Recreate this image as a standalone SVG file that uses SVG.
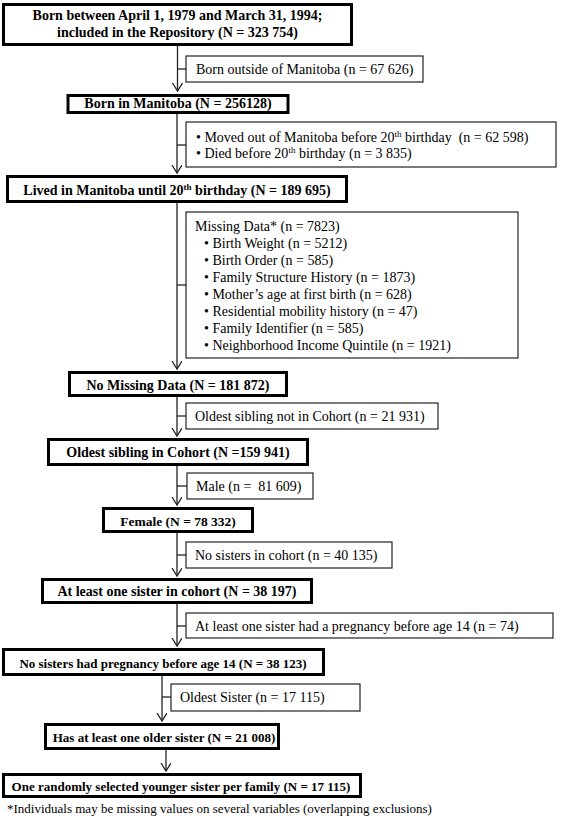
<svg xmlns="http://www.w3.org/2000/svg" width="567" height="823" viewBox="0 0 567 823">
<style>
.main{fill:#fff;stroke:#000;stroke-width:3}
.side{fill:#fff;stroke:#222;stroke-width:1.2}
.bt{font-family:"Liberation Serif","Times New Roman",serif;font-size:14px;font-weight:bold;text-anchor:middle;fill:#000}
.sm{font-size:13px}
.st{font-family:"Liberation Serif","Times New Roman",serif;font-size:14px;fill:#000;white-space:pre}
.fn{font-family:"Liberation Serif","Times New Roman",serif;font-size:13px;fill:#000}
.ln{stroke:#222;stroke-width:1.3;fill:none}
</style>
<defs>
<marker id="arr" markerWidth="12" markerHeight="12" refX="8" refY="5" orient="auto" markerUnits="userSpaceOnUse">
<path d="M0,0 L8,5 L0,10" fill="none" stroke="#222" stroke-width="1.3"/>
</marker>
</defs>
<rect width="567" height="823" fill="#fff"/>
<g id="connectors">
<line class="ln" x1="177.5" y1="46" x2="177.5" y2="91" marker-end="url(#arr)"/>
<line class="ln" x1="177.5" y1="69" x2="186" y2="69"/>
<line class="ln" x1="177" y1="114" x2="177" y2="173" marker-end="url(#arr)"/>
<line class="ln" x1="177" y1="145" x2="186" y2="145"/>
<line class="ln" x1="177" y1="203" x2="177" y2="369" marker-end="url(#arr)"/>
<line class="ln" x1="177" y1="285" x2="186" y2="285"/>
<line class="ln" x1="177" y1="397" x2="177" y2="436" marker-end="url(#arr)"/>
<line class="ln" x1="177" y1="416" x2="186" y2="416"/>
<line class="ln" x1="177" y1="466" x2="177" y2="505" marker-end="url(#arr)"/>
<line class="ln" x1="177" y1="486" x2="187" y2="486"/>
<line class="ln" x1="177" y1="533" x2="177" y2="576" marker-end="url(#arr)"/>
<line class="ln" x1="177" y1="555" x2="186" y2="555"/>
<line class="ln" x1="177" y1="604" x2="177" y2="646" marker-end="url(#arr)"/>
<line class="ln" x1="177" y1="626" x2="186" y2="626"/>
<line class="ln" x1="162" y1="676" x2="162" y2="721" marker-end="url(#arr)"/>
<line class="ln" x1="162" y1="697" x2="171" y2="697"/>
<line class="ln" x1="166" y1="750" x2="166" y2="771" marker-end="url(#arr)"/>
</g>
<g id="n1">
<rect class="main" x="3.5" y="4.5" width="348" height="40"/>
<text class="bt" x="177.5" y="20">Born between April 1, 1979 and March 31, 1994;</text>
<text class="bt" x="177.5" y="37">included in the Repository (N = 323 754)</text>
</g>
<g id="s1">
<rect class="side" x="186" y="56" width="237" height="26"/>
<text class="st" x="196" y="74">Born outside of Manitoba (n = 67 626)</text>
</g>
<g id="n2">
<rect class="main" x="68" y="95.5" width="220" height="17"/>
<text class="bt" x="178" y="108">Born in Manitoba (N = 256128)</text>
</g>
<g id="s2">
<rect class="side" x="186" y="122" width="370" height="45"/>
<text class="st" x="196" y="142">• Moved out of Manitoba before 20<tspan font-size="9" dy="-5">th</tspan><tspan dy="5"> birthday  (n = 62 598)</tspan></text>
<text class="st" x="196" y="158">• Died before 20<tspan font-size="9" dy="-5">th</tspan><tspan dy="5"> birthday (n = 3 835)</tspan></text>
</g>
<g id="n3">
<rect class="main" x="7.5" y="176.5" width="339" height="25"/>
<text class="bt" x="177" y="195">Lived in Manitoba until 20<tspan font-size="9" dy="-5">th</tspan><tspan dy="5"> birthday (N = 189 695)</tspan></text>
</g>
<g id="s3">
<rect class="side" x="186" y="212" width="332" height="146"/>
<text class="st" x="195" y="231">Missing Data* (n = 7823)</text>
<text class="st" x="204" y="248">• Birth Weight (n = 5212)</text>
<text class="st" x="204" y="265">• Birth Order (n = 585)</text>
<text class="st" x="204" y="282">• Family Structure History (n = 1873)</text>
<text class="st" x="204" y="299">• Mother’s age at first birth (n = 628)</text>
<text class="st" x="204" y="316">• Residential mobility history (n = 47)</text>
<text class="st" x="204" y="333">• Family Identifier (n = 585)</text>
<text class="st" x="204" y="350">• Neighborhood Income Quintile (n = 1921)</text>
</g>
<g id="n4">
<rect class="main" x="69.5" y="372.5" width="217" height="23"/>
<text class="bt" x="178" y="390">No Missing Data (N = 181 872)</text>
</g>
<g id="s4">
<rect class="side" x="186" y="403" width="252" height="26"/>
<text class="st" x="195" y="421">Oldest sibling not in Cohort (n = 21 931)</text>
</g>
<g id="n5">
<rect class="main" x="48.5" y="439.5" width="259" height="25"/>
<text class="bt" x="178" y="457">Oldest sibling in Cohort (N =159 941)</text>
</g>
<g id="s5">
<rect class="side" x="187" y="473" width="126" height="26"/>
<text class="st" x="196" y="491">Male (n =  81 609)</text>
</g>
<g id="n6">
<rect class="main" x="103.5" y="508.5" width="149" height="23"/>
<text class="bt" x="178" y="526" style="font-size:13.5px">Female (N = 78 332)</text>
</g>
<g id="s6">
<rect class="side" x="186" y="542" width="206" height="26"/>
<text class="st" x="195" y="560">No sisters in cohort (n = 40 135)</text>
</g>
<g id="n7">
<rect class="main" x="42.5" y="579.5" width="269" height="23"/>
<text class="bt" x="177" y="596">At least one sister in cohort (N = 38 197)</text>
</g>
<g id="s7">
<rect class="side" x="186" y="613" width="367" height="25"/>
<text class="st" x="195" y="631">At least one sister had a pregnancy before age 14 (n = 74)</text>
</g>
<g id="n8">
<rect class="main" x="3.5" y="649.5" width="320" height="25"/>
<text class="bt sm" x="163" y="668">No sisters had pregnancy before age 14 (N = 38 123)</text>
</g>
<g id="s8">
<rect class="side" x="171" y="684" width="189" height="27"/>
<text class="st" x="180" y="702">Oldest Sister (n = 17 115)</text>
</g>
<g id="n9">
<rect class="main" x="45.5" y="724.5" width="233" height="24"/>
<text class="bt sm" x="164" y="742">Has at least one older sister (N = 21 008)</text>
</g>
<g id="n10">
<rect class="main" x="3.5" y="774.5" width="357" height="22"/>
<text class="bt sm" x="181" y="791">One randomly selected younger sister per family (N = 17 115)</text>
</g>
<text class="fn" x="7" y="813">*Individuals may be missing values on several variables (overlapping exclusions)</text>
</svg>
